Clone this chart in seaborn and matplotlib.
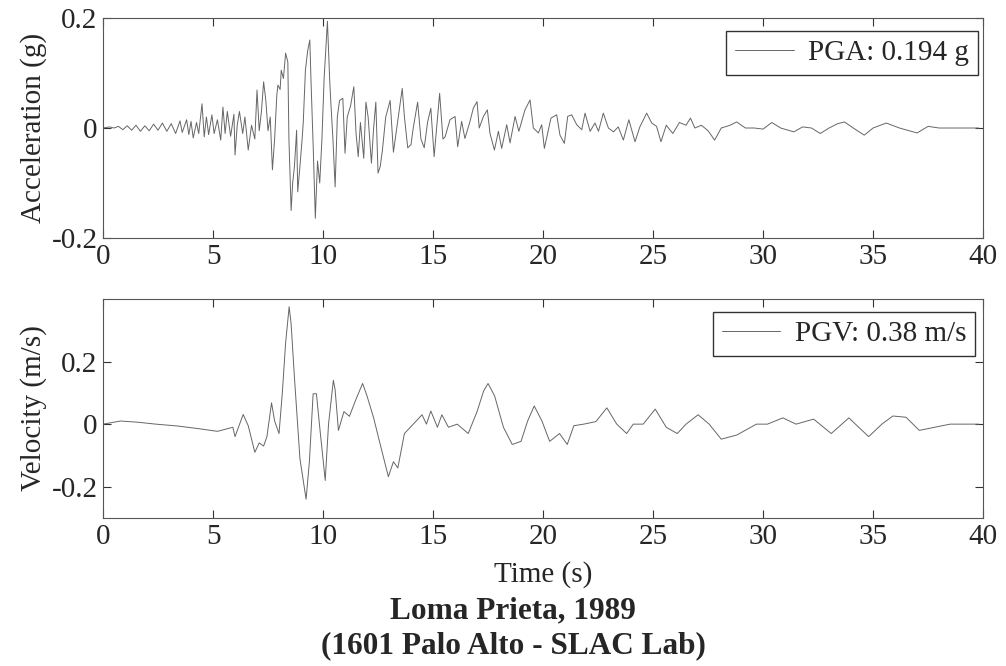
import numpy as np
import pandas as pd
import matplotlib
matplotlib.use("Agg")
import matplotlib.pyplot as plt
import seaborn as sns

# acceleration record (s, g)
acc_t = [0.0, 0.3, 0.5, 0.7, 0.9, 1.1, 1.3, 1.5, 1.7, 1.9, 2.1, 2.3, 2.5, 2.7, 2.9,
         3.1, 3.3, 3.5, 3.6, 3.8, 3.9, 4.0, 4.1, 4.25, 4.35, 4.5, 4.6, 4.7, 4.8, 4.95,
         5.05, 5.2, 5.35, 5.45, 5.55, 5.65, 5.8, 5.95, 6.0, 6.1, 6.2, 6.35, 6.45, 6.6,
         6.75, 6.9, 7.0, 7.1, 7.2, 7.3, 7.4, 7.5, 7.6, 7.7, 7.8, 7.9, 7.95, 8.05, 8.1,
         8.2, 8.3, 8.4, 8.45, 8.55, 8.62, 8.7, 8.8, 8.85, 8.95, 9.05, 9.1, 9.2, 9.3,
         9.4, 9.45, 9.55, 9.65, 9.75, 9.85, 9.95, 10.05, 10.15, 10.2, 10.3, 10.35,
         10.45, 10.55, 10.65, 10.75, 10.9, 11.0, 11.1, 11.25, 11.4, 11.5, 11.6, 11.7,
         11.85, 11.95, 12.05, 12.2, 12.3, 12.4, 12.5, 12.6, 12.7, 12.85, 13.05, 13.2,
         13.35, 13.6, 13.7, 13.85, 14.0, 14.1, 14.3, 14.45, 14.6, 14.75, 14.9, 15.05,
         15.3, 15.45, 15.55, 15.77, 16.0, 16.12, 16.3, 16.45, 16.68, 16.83, 17.0, 17.1,
         17.29, 17.47, 17.59, 17.79, 17.97, 18.12, 18.35, 18.5, 18.73, 18.9, 19.18,
         19.41, 19.56, 19.79, 19.94, 20.06, 20.36, 20.62, 20.77, 20.97, 21.12, 21.3,
         21.53, 21.76, 21.91, 22.14, 22.36, 22.52, 22.74, 22.97, 23.2, 23.42, 23.65,
         23.9, 24.18, 24.4, 24.71, 24.94, 25.16, 25.36, 25.6,
         25.9, 26.2, 26.5, 26.7, 26.9, 27.2, 27.5, 27.8, 28.1, 28.5, 28.8, 29.2, 29.6,
         30.0, 30.4, 30.8, 31.4, 31.8, 32.2, 32.6, 33.0, 33.4, 33.7, 34.1, 34.6, 35.0,
         35.6, 36.2, 37.0, 37.5, 38.0, 38.4, 39.8]
acc_g = [0.0, 0.002, 0.0, 0.003, -0.003, 0.004, -0.004, 0.005, -0.006, 0.004, -0.005,
         0.007, -0.004, 0.009, -0.006, 0.008, -0.01, 0.013, -0.008, 0.015, -0.012,
         0.012, -0.018, 0.01, -0.01, 0.044, -0.016, 0.02, -0.012, 0.024, -0.01, 0.015,
         -0.022, 0.038, -0.01, 0.03, -0.015, 0.025, -0.049, 0.005, 0.03, -0.01, 0.02,
         -0.04, 0.005, -0.02, 0.069, -0.005, 0.03, 0.084, 0.05, -0.005, 0.02, -0.076,
         -0.02, 0.06, 0.078, 0.07, 0.105, 0.09, 0.136, 0.12, -0.02, -0.15, -0.1, -0.07,
         -0.004, -0.116, -0.07, -0.02, 0.009, 0.105, 0.14, 0.16, 0.09, -0.03, -0.164,
         -0.06, -0.1, -0.02, 0.09, 0.16, 0.194, 0.09, 0.05, -0.02, -0.107, 0.02, 0.05,
         0.054, -0.046, 0.02, 0.04, 0.075, -0.01, -0.052, 0.01, -0.055, 0.047, 0.02,
         -0.064, 0.0, 0.047, -0.082, -0.07, -0.04, 0.02, 0.05, -0.044, 0.0, 0.072, 0.02,
         -0.036, -0.03, 0.0, 0.047, -0.02, -0.036, 0.01, 0.036, -0.052, 0.063, -0.02,
         -0.016, 0.015, 0.021, -0.034, 0.012, -0.019, 0.012, 0.036, 0.048, 0.0,
         0.021, 0.033, -0.01, -0.04, -0.006, -0.037, 0.006, -0.027, 0.021, -0.006,
         0.033, 0.051, 0.0, -0.009, 0.006, -0.037, 0.018, 0.024, -0.013, -0.028,
         0.021, 0.024, 0.006, -0.003, 0.027, -0.006, 0.009, -0.006, 0.027, 0.0,
         -0.007, 0.002, -0.022, 0.015, -0.025, 0.002, 0.027, 0.009, 0.003, -0.025,
         0.005, -0.01, 0.01, 0.005, 0.018, 0.0, 0.005, -0.005, -0.022,
         0.0, 0.005, 0.011, 0.0, 0.0, -0.002, 0.01, 0.0, -0.007, 0.002, 0.0, -0.01, 0.0,
         0.008, 0.011, 0.0, -0.013, 0.0, 0.009, 0.0, -0.009, 0.003, 0.0, 0.0, 0.0]

# velocity record (s, m/s)
vel_t = [0.0, 0.8, 1.6, 2.4, 3.4, 4.4, 5.2, 5.9, 6.0, 6.37, 6.6, 6.9, 7.1, 7.3,
         7.45, 7.66, 7.8, 8.0, 8.15, 8.3, 8.46, 8.55, 8.7, 8.95, 9.23, 9.38, 9.55,
         9.7, 9.85, 10.1, 10.25, 10.47, 10.55, 10.7, 10.95, 11.2, 11.5, 11.8, 12.0,
         12.3, 12.6, 12.97, 13.2, 13.4, 13.7, 14.1, 14.5, 14.7, 14.9, 15.2, 15.4,
         15.7, 16.1, 16.6, 17.0, 17.3, 17.5, 17.8, 18.2, 18.6, 19.0, 19.3, 19.6, 19.95,
         20.3, 20.75, 21.1, 21.4, 21.85, 22.4, 22.9, 23.35, 23.8, 24.1, 24.55, 25.1,
         25.6, 26.1, 26.5, 27.05, 27.55, 28.1, 28.8, 29.7, 30.2, 30.9, 31.5, 32.3,
         33.1, 33.9, 34.8, 35.4, 35.9, 36.5, 37.1, 37.8, 38.5, 39.8]
vel_ms = [0.0, 0.01, 0.006, 0.0, -0.006, -0.015, -0.023, -0.01, -0.04, 0.031,
          -0.005, -0.09, -0.06, -0.07, -0.04, 0.068, 0.01, -0.03, 0.1, 0.26, 0.375,
          0.32, 0.15, -0.11, -0.24, -0.12, 0.097, 0.097, -0.01, -0.18, 0.0, 0.14,
          0.11, -0.02, 0.04, 0.025, 0.08, 0.13, 0.09, 0.02, -0.065, -0.168, -0.12,
          -0.14, -0.03, 0.0, 0.03, 0.0, 0.042, -0.01, 0.03, -0.01, 0.0, -0.03, 0.04,
          0.106, 0.13, 0.09, -0.01, -0.065, -0.055, 0.01, 0.058, 0.01, -0.055, -0.03,
          -0.065, -0.005, 0.0, 0.008, 0.052, 0.0, -0.03, 0.0, 0.0, 0.048, -0.01,
          -0.03, 0.0, 0.03, 0.0, -0.048, -0.035, 0.0, 0.0, 0.02, 0.0, 0.016, -0.03,
          0.02, -0.04, 0.0, 0.026, 0.022, -0.02, -0.01, 0.0, 0.0]

x_ticks = [0, 5, 10, 15, 20, 25, 30, 35, 40]
acc_ticks = [-0.2, 0, 0.2]
acc_ticklabels = ["-0.2", "0", "0.2"]
vel_ticks = [-0.2, 0, 0.2]
vel_ticklabels = ["-0.2", "0", "0.2"]

sns.set_style("ticks")
plt.rcParams["font.family"] = ["Liberation Serif", "DejaVu Serif"]
plt.rcParams["xtick.direction"] = "in"
plt.rcParams["ytick.direction"] = "in"
plt.rcParams["xtick.top"] = True
plt.rcParams["ytick.right"] = True

acc = pd.DataFrame({"t": acc_t, "a": acc_g})
vel = pd.DataFrame({"t": vel_t, "v": vel_ms})

fig = plt.figure(figsize=(10.06, 6.66), dpi=100)
ax1 = fig.add_axes([0.1024, 0.6426, 0.8748, 0.3304])
ax2 = fig.add_axes([0.1024, 0.2222, 0.8748, 0.3289])

line_col = "#666666"
sns.lineplot(data=acc, x="t", y="a", ax=ax1, color=line_col, lw=0.7,
             sort=False, estimator=None, label="PGA: 0.194 g")
sns.lineplot(data=vel, x="t", y="v", ax=ax2, color=line_col, lw=0.7,
             sort=False, estimator=None, label="PGV: 0.38 m/s")

ax1.set_xlim(0, 40)
ax1.set_ylim(-0.2, 0.2)
ax1.set_yticks(acc_ticks)
ax1.set_yticklabels(acc_ticklabels)
ax1.set_ylabel("Acceleration (g)", fontsize=21, labelpad=3)
ax1.set_xlabel("")

ax2.set_xlim(0, 40)
ax2.set_ylim(-0.3, 0.4)
ax2.set_yticks(vel_ticks)
ax2.set_yticklabels(vel_ticklabels)
ax2.set_ylabel("Velocity (m/s)", fontsize=21, labelpad=3)
ax2.set_xlabel("Time (s)", fontsize=21, labelpad=8)

for ax in (ax1, ax2):
    ax.set_xticks(x_ticks)
    ax.tick_params(labelsize=21, length=6, width=0.8, pad=4, color="#333333")
    for sp in ax.spines.values():
        sp.set_linewidth(0.8)
        sp.set_color("#555555")

leg_style = dict(loc="upper right", fontsize=21, frameon=True, fancybox=False,
                 edgecolor="#333333", framealpha=1, handlelength=2.0,
                 borderaxespad=0, borderpad=0.3, handletextpad=0.5)
ax1.legend(bbox_to_anchor=(0.994, 0.941), **leg_style)
ax2.legend(bbox_to_anchor=(0.991, 0.941), **leg_style)

fig.text(0.51, 0.083, "Loma Prieta, 1989", ha="center", va="center",
         fontsize=22.5, fontweight="bold")
fig.text(0.51, 0.03, "(1601 Palo Alto - SLAC Lab)", ha="center", va="center",
         fontsize=22.5, fontweight="bold")

fig.savefig("out.png", dpi=100)
